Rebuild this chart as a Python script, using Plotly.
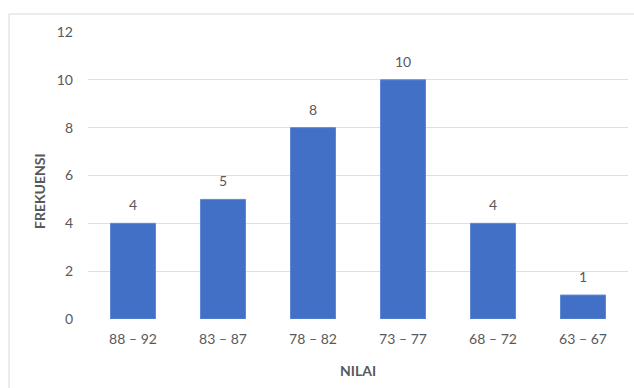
import plotly.graph_objects as go

# Frequency distribution of scores (NILAI) per class interval
intervals = ["88 – 92", "83 – 87", "78 – 82", "73 – 77", "68 – 72", "63 – 67"]
frequencies = [4, 5, 8, 10, 4, 1]
y_ticks = [0, 2, 4, 6, 8, 10, 12]

W, H = 634, 388
L, R, T, B = 88, 6, 32, 69
plot_w, plot_h = W - L - R, H - T - B

text_color = "#595959"
font_family = "Lato, Open Sans, sans-serif"
fsize = 14

fig = go.Figure(
    go.Bar(
        x=intervals,
        y=frequencies,
        marker=dict(color="#4270c6", line=dict(color="#5f88d2", width=1)),
        width=0.5,
    )
)

# Value labels above each bar
for cat, val in zip(intervals, frequencies):
    fig.add_annotation(
        x=cat, y=val, text=str(val), showarrow=False,
        yanchor="bottom", yshift=8,
        font=dict(size=fsize, color=text_color, family=font_family),
    )

# pixel -> paper helpers
px = lambda v: (v - L) / plot_w
py = lambda v: (H - B - v) / plot_h

# Vertical axis title
fig.add_annotation(
    x=px(39), y=py(191), xref="paper", yref="paper",
    text="<b>FREKUENSI</b>", textangle=-90, showarrow=False,
    xanchor="center", yanchor="middle",
    font=dict(size=fsize, color=text_color, family=font_family),
)

# Chart frame (outer border around the whole chart area)
fig.add_shape(
    type="rect", xref="paper", yref="paper",
    x0=px(9), x1=px(640), y0=py(14), y1=py(400),
    line=dict(color="#d9d9d9", width=1), fillcolor="rgba(0,0,0,0)", layer="below",
)

fig.update_layout(
    width=W, height=H,
    margin=dict(l=L, r=R, t=T, b=B),
    paper_bgcolor="white", plot_bgcolor="white",
    showlegend=False,
    font=dict(family=font_family, color=text_color, size=fsize),
    xaxis=dict(
        showgrid=False, showline=False, zeroline=False, ticks="",
        ticklabelstandoff=10,
        tickfont=dict(size=fsize, color=text_color),
        title=dict(text="<b>NILAI</b>", font=dict(size=fsize, color=text_color), standoff=20),
    ),
    yaxis=dict(
        range=[0, 12], tickvals=y_ticks, showline=False, zeroline=False,
        gridcolor="#dcdfe4", gridwidth=1, ticks="",
        ticklabelstandoff=14,
        tickfont=dict(size=fsize, color=text_color),
    ),
)

fig.write_html("out.html")
